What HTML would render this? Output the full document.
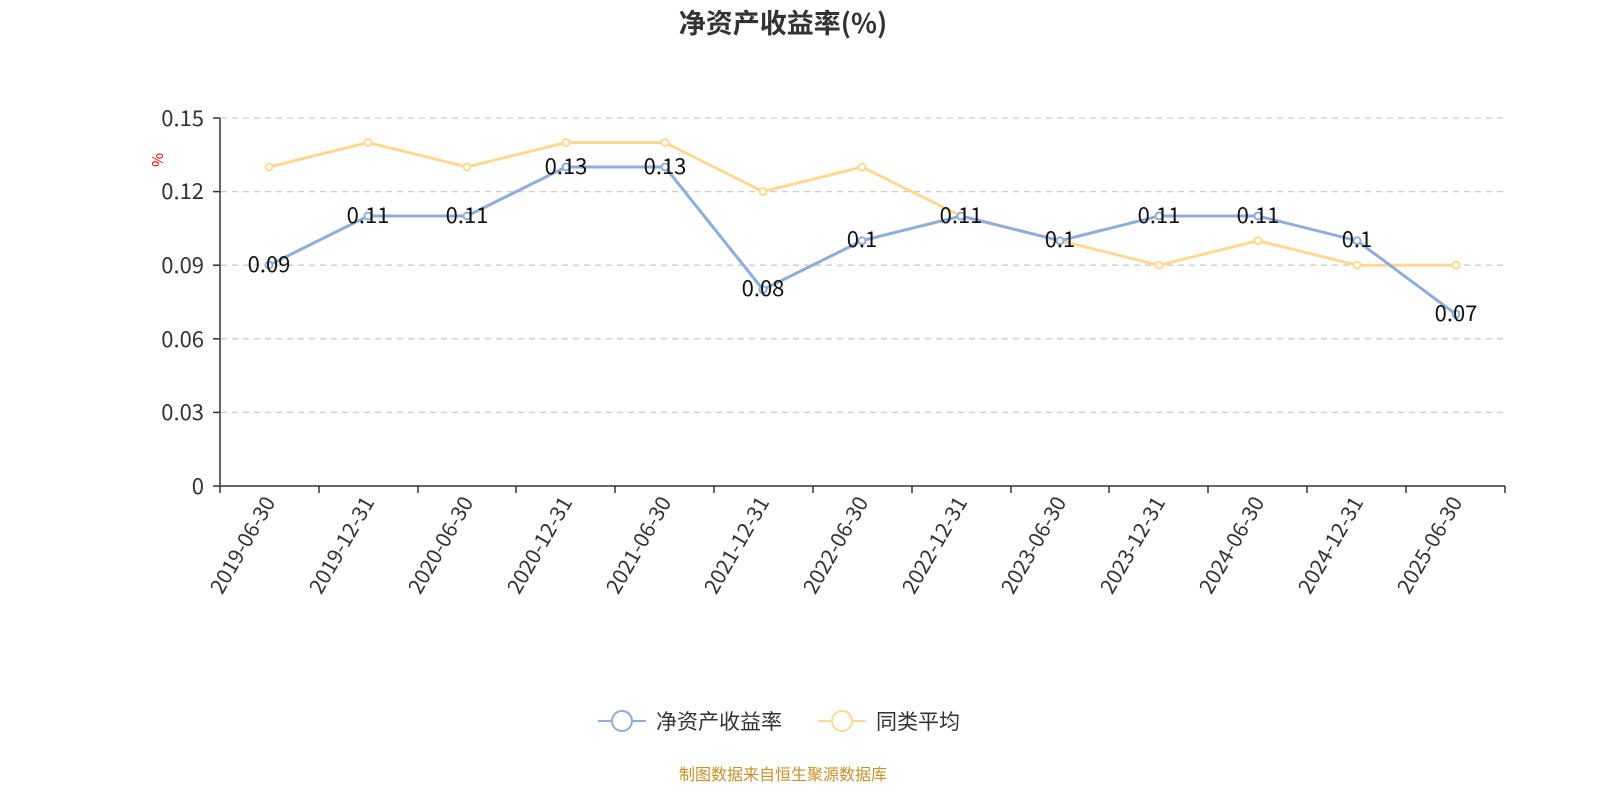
<!DOCTYPE html>
<html><head><meta charset="utf-8"><style>
body{margin:0;background:#fff;}
svg text{font-family:"Noto Sans CJK SC","Liberation Sans",sans-serif;}
</style></head><body>
<svg width="1600" height="800" xmlns="http://www.w3.org/2000/svg">
<text x="783" y="33" text-anchor="middle" font-size="27" font-weight="bold" fill="#333">净资产收益率(%)</text>
<text x="163" y="160" font-size="15" fill="#e00" transform="rotate(-90 163 160)" text-anchor="middle">%</text>
<g stroke="#ccc" stroke-dasharray="6,5" stroke-width="1.3">
<line x1="221" y1="118" x2="1505" y2="118"/><line x1="221" y1="191.6" x2="1505" y2="191.6"/>
<line x1="221" y1="265.2" x2="1505" y2="265.2"/><line x1="221" y1="338.8" x2="1505" y2="338.8"/>
<line x1="221" y1="412.4" x2="1505" y2="412.4"/>
</g>
<g stroke="#333" stroke-width="1.5">
<line x1="220" y1="118" x2="220" y2="486"/><line x1="220" y1="486" x2="1505" y2="486"/>
<line x1="213" y1="118" x2="220" y2="118"/><line x1="213" y1="191.6" x2="220" y2="191.6"/><line x1="213" y1="265.2" x2="220" y2="265.2"/><line x1="213" y1="338.8" x2="220" y2="338.8"/><line x1="213" y1="412.4" x2="220" y2="412.4"/><line x1="213" y1="486" x2="220" y2="486"/>
<line x1="220" y1="486" x2="220" y2="493"/><line x1="319" y1="486" x2="319" y2="493"/><line x1="418" y1="486" x2="418" y2="493"/><line x1="516" y1="486" x2="516" y2="493"/><line x1="615" y1="486" x2="615" y2="493"/><line x1="714" y1="486" x2="714" y2="493"/><line x1="813" y1="486" x2="813" y2="493"/><line x1="912" y1="486" x2="912" y2="493"/><line x1="1011" y1="486" x2="1011" y2="493"/><line x1="1109" y1="486" x2="1109" y2="493"/><line x1="1208" y1="486" x2="1208" y2="493"/><line x1="1307" y1="486" x2="1307" y2="493"/><line x1="1406" y1="486" x2="1406" y2="493"/><line x1="1505" y1="486" x2="1505" y2="493"/>
</g>
<g font-size="22" fill="#333" text-anchor="end">
<text x="204" y="126">0.15</text><text x="204" y="199">0.12</text><text x="204" y="273">0.09</text><text x="204" y="347">0.06</text><text x="204" y="420">0.03</text><text x="204" y="494">0</text>
</g>
<g font-size="21" fill="#333" text-anchor="end">
<text transform="translate(276,502) rotate(-60)">2019-06-30</text>
<text transform="translate(375,502) rotate(-60)">2019-12-31</text>
<text transform="translate(474,502) rotate(-60)">2020-06-30</text>
<text transform="translate(573,502) rotate(-60)">2020-12-31</text>
<text transform="translate(672,502) rotate(-60)">2021-06-30</text>
<text transform="translate(770,502) rotate(-60)">2021-12-31</text>
<text transform="translate(869,502) rotate(-60)">2022-06-30</text>
<text transform="translate(968,502) rotate(-60)">2022-12-31</text>
<text transform="translate(1067,502) rotate(-60)">2023-06-30</text>
<text transform="translate(1166,502) rotate(-60)">2023-12-31</text>
<text transform="translate(1265,502) rotate(-60)">2024-06-30</text>
<text transform="translate(1364,502) rotate(-60)">2024-12-31</text>
<text transform="translate(1463,502) rotate(-60)">2025-06-30</text>
</g>
<polyline fill="none" stroke="#ffd993" stroke-width="3" points="269,167 368,142.5 467,167 566,142.5 665,142.5 763,191.6 862,167 961,216 1060,240.7 1159,265.2 1258,240.7 1357,265.2 1456,265.2"/>
<g fill="#fff" stroke="#ffd993" stroke-width="2">
<circle cx="269" cy="167" r="3.5"/><circle cx="368" cy="142.5" r="3.5"/><circle cx="467" cy="167" r="3.5"/><circle cx="566" cy="142.5" r="3.5"/><circle cx="665" cy="142.5" r="3.5"/><circle cx="763" cy="191.6" r="3.5"/><circle cx="862" cy="167" r="3.5"/><circle cx="961" cy="216" r="3.5"/><circle cx="1060" cy="240.7" r="3.5"/><circle cx="1159" cy="265.2" r="3.5"/><circle cx="1258" cy="240.7" r="3.5"/><circle cx="1357" cy="265.2" r="3.5"/><circle cx="1456" cy="265.2" r="3.5"/>
</g>
<polyline fill="none" stroke="#8eaddb" stroke-width="3" points="269,265.2 368,216 467,216 566,167 665,167 763,289.7 862,240.7 961,216 1060,240.7 1159,216 1258,216 1357,240.7 1456,314.3"/>
<g fill="#fff" stroke="#8eaddb" stroke-width="2">
<circle cx="269" cy="265.2" r="3.5"/><circle cx="368" cy="216" r="3.5"/><circle cx="467" cy="216" r="3.5"/><circle cx="566" cy="167" r="3.5"/><circle cx="665" cy="167" r="3.5"/><circle cx="763" cy="289.7" r="3.5"/><circle cx="862" cy="240.7" r="3.5"/><circle cx="961" cy="216" r="3.5"/><circle cx="1060" cy="240.7" r="3.5"/><circle cx="1159" cy="216" r="3.5"/><circle cx="1258" cy="216" r="3.5"/><circle cx="1357" cy="240.7" r="3.5"/><circle cx="1456" cy="314.3" r="3.5"/>
</g>
<g font-size="22" fill="#111" text-anchor="middle">
<text x="269" y="272">0.09</text><text x="368" y="223">0.11</text><text x="467" y="223">0.11</text><text x="566" y="174">0.13</text><text x="665" y="174">0.13</text><text x="763" y="296">0.08</text><text x="862" y="247">0.1</text><text x="961" y="223">0.11</text><text x="1060" y="247">0.1</text><text x="1159" y="223">0.11</text><text x="1258" y="223">0.11</text><text x="1357" y="247">0.1</text><text x="1456" y="321">0.07</text>
</g>
<line x1="598" y1="721" x2="646" y2="721" stroke="#8eaddb" stroke-width="2"/>
<circle cx="622" cy="721" r="10" fill="#fff" stroke="#8eaddb" stroke-width="2"/>
<text x="656" y="729" font-size="21" fill="#333">净资产收益率</text>
<line x1="818" y1="721" x2="866" y2="721" stroke="#ffd993" stroke-width="2"/>
<circle cx="842" cy="721" r="10" fill="#fff" stroke="#ffd993" stroke-width="2"/>
<text x="876" y="729" font-size="21" fill="#333">同类平均</text>
<text x="783" y="780" font-size="16" fill="#c8902a" text-anchor="middle">制图数据来自恒生聚源数据库</text>
</svg>
</body></html>
